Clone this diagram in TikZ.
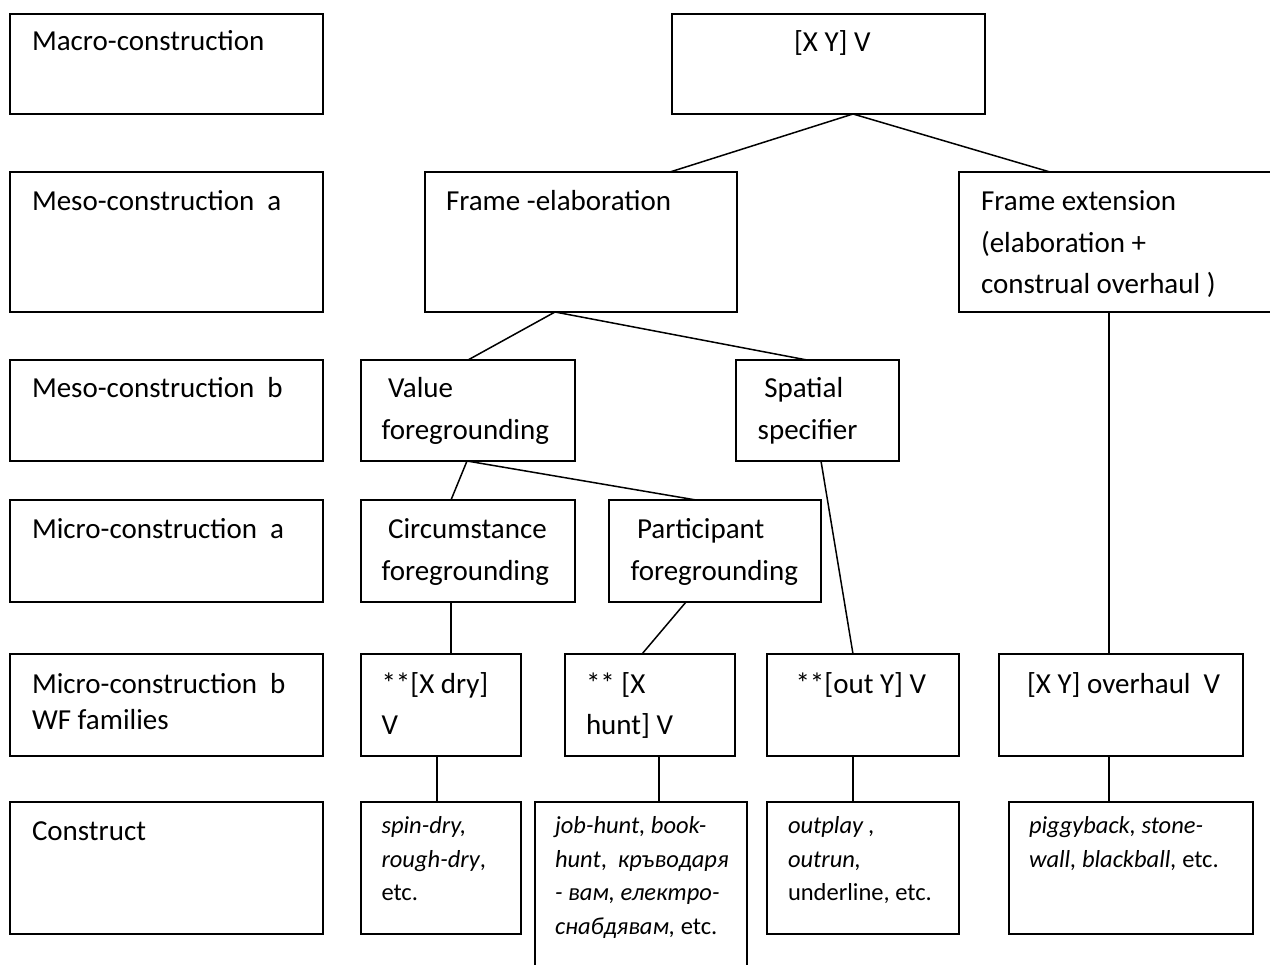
\documentclass[tikz,border=0pt]{standalone}
\usepackage{fontspec}
\setmainfont{Carlito}
\newcommand{\mainsz}{\fontsize{29}{41.5}\selectfont}
\newcommand{\leftsz}{\fontsize{29}{36}\selectfont}
\newcommand{\smallsz}{\fontsize{24.5}{33.7}\selectfont}
\newcommand{\tb}[1]{\parbox[t]{400pt}{\raggedright #1}}
\newcommand{\lsp}{\hspace*{6.6pt}}
\begin{document}
\begin{tikzpicture}[x=1pt,y=-1pt,
  box/.style={draw, line width=1.5pt, inner sep=0pt, outer sep=0pt, anchor=north west},
  txt/.style={inner sep=0pt, outer sep=0pt, anchor=base west, font=\mainsz},
  ltxt/.style={txt, font=\leftsz},
  stxt/.style={txt, font=\smallsz},
  conn/.style={line width=1.5pt}]
\useasboundingbox (0,0) rectangle (1270,965);

% left column labels
\node[box, minimum width=313pt, minimum height=100pt] (macro) at (10,14) {};
\node[ltxt] (macrot) at (32,51) {\tb{Macro-construction}};
\node[box, minimum width=313pt, minimum height=140pt] (mesoa) at (10,172) {};
\node[ltxt] (mesoat) at (32,211) {\tb{Meso-construction\ \ a}};
\node[box, minimum width=313pt, minimum height=101pt] (mesob) at (10,360) {};
\node[ltxt] (mesobt) at (32,398) {\tb{Meso-construction\ \ b}};
\node[box, minimum width=313pt, minimum height=102pt] (microa) at (10,500) {};
\node[ltxt] (microat) at (32,539) {\tb{Micro-construction\ \ a}};
\node[box, minimum width=313pt, minimum height=102pt] (microb) at (10,654) {};
\node[ltxt] (microbt) at (32,693) {\tb{Micro-construction\ \ b\\WF families}};
\node[box, minimum width=313pt, minimum height=132pt] (constr) at (10,802) {};
\node[ltxt] (constrt) at (32,840) {\tb{Construct}};

% tree boxes
\node[box, minimum width=313pt, minimum height=100pt] (xyv) at (672,14) {};
\node[txt] (xyvt) at (794,52) {\tb{[X Y] V}};

\node[box, minimum width=312pt, minimum height=140pt] (fe) at (425,172) {};
\node[txt] (fet) at (446,211) {\tb{Frame -elaboration}};
\node[box, minimum width=330pt, minimum height=140pt] (fx) at (959,172) {};
\node[txt] (fxt) at (981,211) {\tb{Frame extension\\(elaboration +\\construal overhaul )}};

\node[box, minimum width=214pt, minimum height=101pt] (vf) at (361,360) {};
\node[txt] (vft) at (381.5,398) {\tb{\lsp Value\\foregrounding}};
\node[box, minimum width=163pt, minimum height=101pt] (ss) at (736,360) {};
\node[txt] (sst) at (757.7,398) {\tb{\lsp Spatial\\specifier}};

\node[box, minimum width=214pt, minimum height=102pt] (cf) at (361,500) {};
\node[txt] (cft) at (381.5,539) {\tb{\lsp Circumstance\\foregrounding}};
\node[box, minimum width=212pt, minimum height=102pt] (pf) at (609,500) {};
\node[txt] (pft) at (630.5,539) {\tb{\lsp Participant\\foregrounding}};

\node[box, minimum width=160pt, minimum height=102pt] (dry) at (361,654) {};
\node[txt] (dryt) at (381.5,693) {\tb{**[X dry]\\V}};
\node[box, minimum width=170pt, minimum height=102pt] (hunt) at (565,654) {};
\node[txt] (huntt) at (586,693) {\tb{** [X\\hunt] V}};
\node[box, minimum width=192pt, minimum height=102pt] (out) at (767,654) {};
\node[txt] (outt) at (795.5,693) {\tb{**[out Y] V}};
\node[box, minimum width=244pt, minimum height=102pt] (ovh) at (999,654) {};
\node[txt] (ovht) at (1027,693) {\tb{[X Y] overhaul\ \ V}};

\node[box, minimum width=160pt, minimum height=132pt] (spin) at (361,802) {};
\node[stxt] (spint) at (381.5,833.5) {\tb{\textit{spin-dry,}\\\textit{rough-dry},\\etc.}};
\node[box, minimum width=212pt, minimum height=190pt] (job) at (535,802) {};
\node[stxt] (jobt) at (555,833.5) {\tb{\textit{job-hunt, book-}\\\textit{hunt},\ \ \textit{кръводаря}\\\textit{- вам, електро-}\\\textit{снабдявам,} etc.}};
\node[box, minimum width=192pt, minimum height=132pt] (outplay) at (767,802) {};
\node[stxt] (outplayt) at (788,833.5) {\tb{\textit{outplay ,}\\\textit{outrun,}\\underline, etc.}};
\node[box, minimum width=244pt, minimum height=132pt] (piggy) at (1009,802) {};
\node[stxt] (piggyt) at (1029,833.5) {\tb{\textit{piggyback, stone-}\\\textit{wall, blackball,} etc.}};

% connectors
\draw[conn] ([xshift=181pt]xyv.south west) -- ([xshift=245pt]fe.north west);
\draw[conn] ([xshift=181pt]xyv.south west) -- ([xshift=91pt]fx.north west);
\draw[conn] ([xshift=130pt]fe.south west) -- ([xshift=107pt]vf.north west);
\draw[conn] ([xshift=130pt]fe.south west) -- ([xshift=71pt]ss.north west);
\draw[conn] ([xshift=106pt]vf.south west) -- ([xshift=90pt]cf.north west);
\draw[conn] ([xshift=106pt]vf.south west) -- ([xshift=87pt]pf.north west);
\draw[conn] ([xshift=85pt]ss.south west) -- ([xshift=86pt]out.north west);
\draw[conn] ([xshift=150pt]fx.south west) -- ([xshift=110pt]ovh.north west);
\draw[conn] ([xshift=90pt]cf.south west) -- ([xshift=90pt]dry.north west);
\draw[conn] ([xshift=77pt]pf.south west) -- ([xshift=77pt]hunt.north west);
\draw[conn] ([xshift=76pt]dry.south west) -- ([xshift=76pt]spin.north west);
\draw[conn] ([xshift=94pt]hunt.south west) -- ([xshift=124pt]job.north west);
\draw[conn] ([xshift=86pt]out.south west) -- ([xshift=86pt]outplay.north west);
\draw[conn] ([xshift=110pt]ovh.south west) -- ([xshift=100pt]piggy.north west);
\end{tikzpicture}
\end{document}
